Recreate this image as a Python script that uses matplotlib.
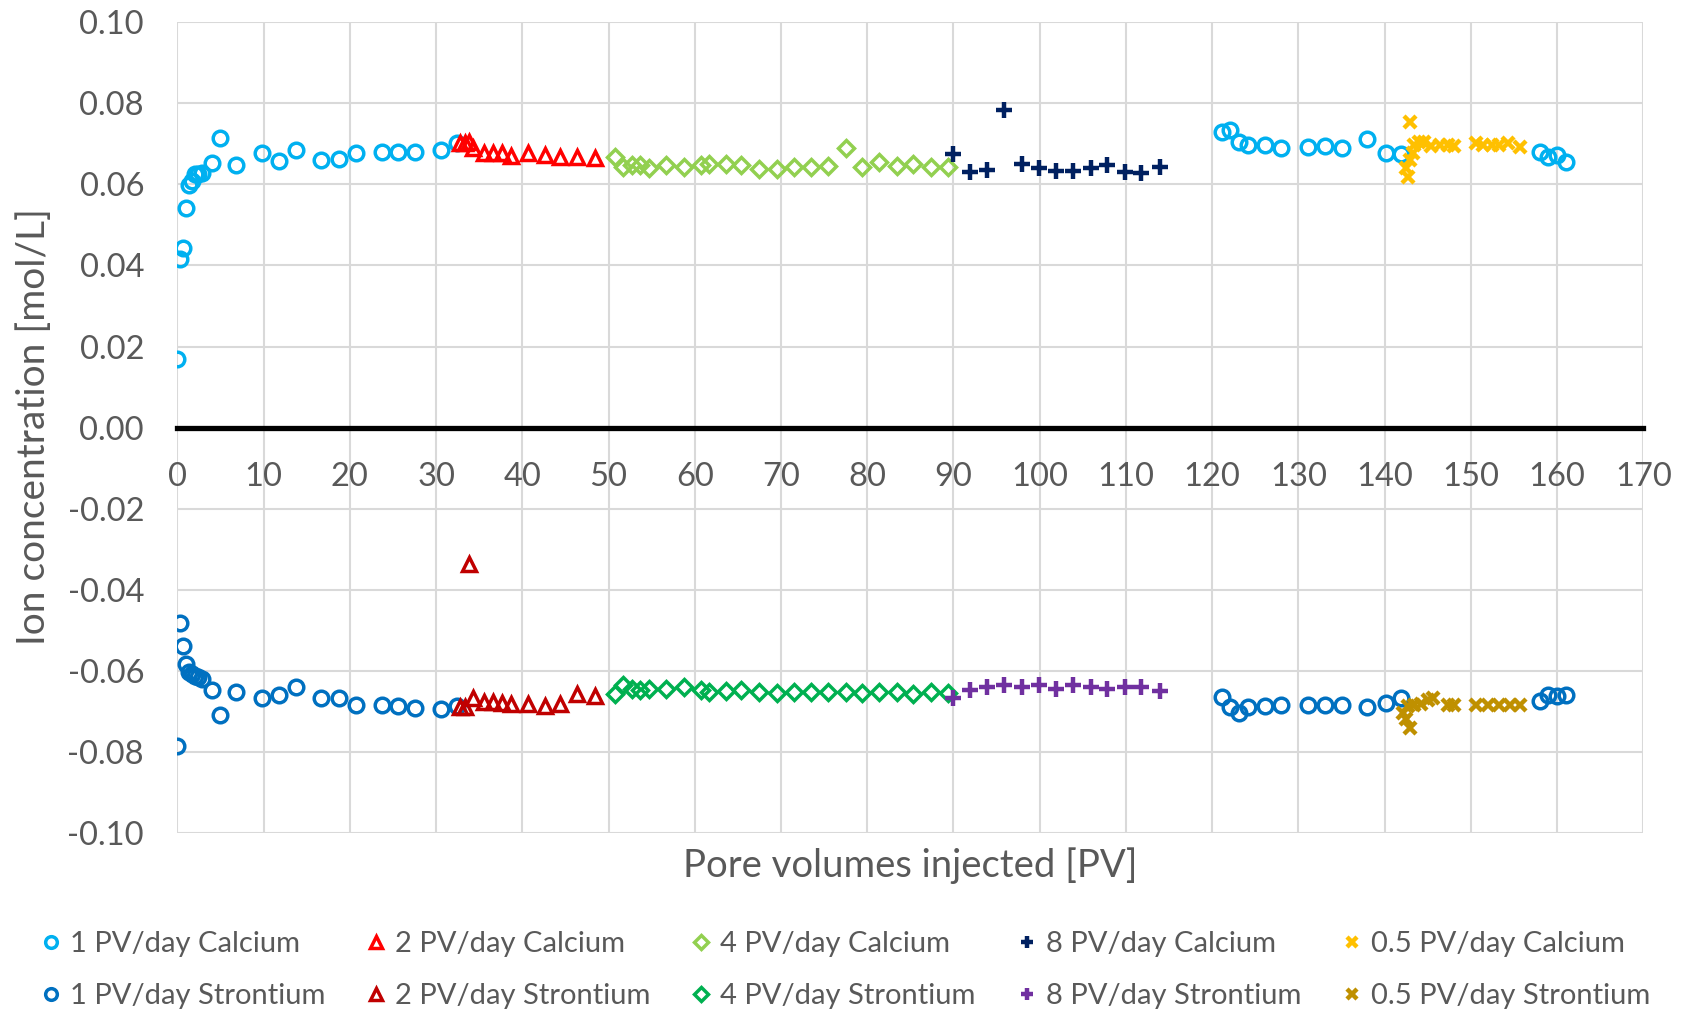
import matplotlib.pyplot as plt
from matplotlib.ticker import FormatStrFormatter

plt.rcParams["font.family"] = ["Lato", "DejaVu Sans"]
plt.rcParams["axes.unicode_minus"] = False

# 1 PV/day
pv1_x = [0.0, 0.3, 0.6, 1.0, 1.4, 1.7, 2.0, 2.4, 2.9, 4.0, 4.9, 6.8, 9.8, 11.8,
         13.7, 16.7, 18.7, 20.7, 23.7, 25.6, 27.6, 30.6, 32.4,
         121.1, 122.1, 123.1, 124.2, 126.1, 128.0, 131.1, 133.1, 135.0, 138.0,
         140.1, 141.9, 158.0, 159.0, 160.0, 161.0]
pv1_ca = [0.0170, 0.0415, 0.0444, 0.0542, 0.0598, 0.0609, 0.0626, 0.0625, 0.0629,
          0.0652, 0.0714, 0.0648, 0.0678, 0.0658, 0.0685, 0.0660, 0.0663, 0.0678,
          0.0679, 0.0679, 0.0679, 0.0685, 0.0701,
          0.0730, 0.0734, 0.0705, 0.0697, 0.0697, 0.0689, 0.0693, 0.0695, 0.0689,
          0.0712, 0.0678, 0.0675, 0.0681, 0.0668, 0.0672, 0.0656]
pv1_sr = [-0.0785, -0.0482, -0.0538, -0.0584, -0.0604, -0.0608, -0.0612, -0.0616,
          -0.0621, -0.0648, -0.0709, -0.0653, -0.0666, -0.0660, -0.0639, -0.0668,
          -0.0668, -0.0684, -0.0684, -0.0686, -0.0691, -0.0695, -0.0686,
          -0.0664, -0.0688, -0.0703, -0.0688, -0.0686, -0.0685, -0.0684, -0.0684,
          -0.0684, -0.0690, -0.0680, -0.0668, -0.0674, -0.0660, -0.0663, -0.0660]

# 2 PV/day
pv2_x = [32.8, 33.3, 33.8, 34.3, 35.6, 36.6, 37.7, 38.7, 40.7, 42.6, 44.4, 46.3, 48.4]
pv2_ca = [0.0703, 0.0701, 0.0705, 0.0689, 0.0678, 0.0677, 0.0677, 0.0670, 0.0677,
          0.0673, 0.0668, 0.0668, 0.0664]
pv2_sr = [-0.0690, -0.0690, -0.0337, -0.0666, -0.0678, -0.0678, -0.0680, -0.0682,
          -0.0682, -0.0686, -0.0682, -0.0658, -0.0662]

# 4 PV/day
pv4_x = [50.7, 51.7, 52.7, 53.7, 54.7, 56.7, 58.7, 60.7, 61.7, 63.6, 65.4, 67.4,
         69.5, 71.5, 73.5, 75.4, 77.5, 79.4, 81.4, 83.4, 85.3, 87.4, 89.4]
pv4_ca = [0.0668, 0.0642, 0.0648, 0.0648, 0.0640, 0.0648, 0.0644, 0.0648, 0.0650,
          0.0650, 0.0648, 0.0638, 0.0638, 0.0644, 0.0644, 0.0645, 0.0689, 0.0644,
          0.0656, 0.0645, 0.0650, 0.0642, 0.0644]
pv4_sr = [-0.0658, -0.0635, -0.0645, -0.0647, -0.0645, -0.0644, -0.0641, -0.0647,
          -0.0652, -0.0649, -0.0647, -0.0652, -0.0655, -0.0653, -0.0652, -0.0651,
          -0.0653, -0.0655, -0.0651, -0.0653, -0.0658, -0.0653, -0.0655]

# 8 PV/day
pv8_x = [89.9, 91.9, 93.9, 95.9, 97.9, 99.9, 101.9, 103.9, 105.9, 107.8, 109.9,
         111.8, 113.9]
pv8_ca = [0.0675, 0.0631, 0.0635, 0.0784, 0.0650, 0.0640, 0.0634, 0.0634, 0.0640,
          0.0648, 0.0631, 0.0629, 0.0644]
pv8_sr = [-0.0666, -0.0647, -0.0639, -0.0635, -0.0639, -0.0635, -0.0644, -0.0635,
          -0.0639, -0.0644, -0.0639, -0.0639, -0.0649]

# 0.5 PV/day
pv05_ca_x = [142.9, 142.7, 142.5, 142.9, 143.3, 143.4, 144.0, 144.6, 145.4, 146.4,
             147.3, 148.1, 150.6, 151.4, 152.4, 153.3, 154.3, 155.7]
pv05_ca = [0.0755, 0.0619, 0.0640, 0.0660, 0.0677, 0.0697, 0.0705, 0.0705, 0.0695,
           0.0697, 0.0697, 0.0695, 0.0701, 0.0697, 0.0697, 0.0697, 0.0701, 0.0691]
pv05_sr_x = [142.9, 142.5, 142.1, 142.7, 143.4, 144.2, 145.0, 145.6, 147.3, 148.1,
             150.6, 152.0, 153.3, 154.5, 155.7]
pv05_sr = [-0.0740, -0.0719, -0.0703, -0.0686, -0.0685, -0.0682, -0.0672, -0.0668,
           -0.0685, -0.0685, -0.0685, -0.0685, -0.0685, -0.0685, -0.0685]

text_color = "#595959"

fig = plt.figure(figsize=(16.86, 10.13), dpi=100)
ax = fig.add_axes([0.1052, 0.1777, 0.8695, 0.8004])

open_style = dict(linestyle="none", markerfacecolor="none", markeredgewidth=2.5)
cross_style = dict(linestyle="none", markeredgewidth=3.2)

ax.plot(pv1_x, pv1_ca, "o", color="#00B0F0", markersize=10.5, label="1 PV/day Calcium", **open_style)
ax.plot(pv1_x, pv1_sr, "o", color="#0070C0", markersize=10.5, label="1 PV/day Strontium", **open_style)
ax.plot(pv2_x, pv2_ca, "^", color="#FF0000", markersize=10.5, label="2 PV/day Calcium", **open_style)
ax.plot(pv2_x, pv2_sr, "^", color="#C00000", markersize=10.5, label="2 PV/day Strontium", **open_style)
ax.plot(pv4_x, pv4_ca, "D", color="#92D050", markersize=8.5, label="4 PV/day Calcium", **open_style)
ax.plot(pv4_x, pv4_sr, "D", color="#00B050", markersize=8.5, label="4 PV/day Strontium", **open_style)
ax.plot(pv8_x, pv8_ca, "+", color="#002060", markersize=11, label="8 PV/day Calcium", **cross_style)
ax.plot(pv8_x, pv8_sr, "+", color="#7030A0", markersize=11, label="8 PV/day Strontium", **cross_style)
ax.plot(pv05_ca_x, pv05_ca, "x", color="#FFC000", markersize=9, label="0.5 PV/day Calcium", **cross_style)
ax.plot(pv05_sr_x, pv05_sr, "x", color="#BF9000", markersize=9, label="0.5 PV/day Strontium", **cross_style)

ax.set_xlim(0, 170)
ax.set_ylim(-0.10, 0.10)
ax.set_xticks(range(0, 171, 10))
ax.set_yticks([-0.10, -0.08, -0.06, -0.04, -0.02, 0.0, 0.02, 0.04, 0.06, 0.08, 0.10])
ax.yaxis.set_major_formatter(FormatStrFormatter("%.2f"))

ax.grid(True, color="#D9D9D9", linewidth=1.5)
ax.set_axisbelow(True)
for side in ["top", "right", "left"]:
    ax.spines[side].set_visible(False)
ax.spines["bottom"].set_position(("data", 0))
ax.spines["bottom"].set_color("black")
ax.spines["bottom"].set_linewidth(3.8)
ax.spines["bottom"].set_zorder(2.5)

ax.tick_params(axis="both", length=0, labelsize=23.5, colors=text_color)
ax.tick_params(axis="x", pad=25)
ax.tick_params(axis="y", pad=24)

fig.text(0.54, 1 - 866 / 1013, "Pore volumes injected [PV]", ha="center", va="center",
         fontsize=27.5, color=text_color)
fig.text(34 / 1686, 1 - 427 / 1013, "Ion concentration [mol/L]", ha="center", va="center",
         rotation=90, fontsize=28, color=text_color)

fig.legend(loc="lower left", bbox_to_anchor=(0.011, -0.022), ncol=5, frameon=False,
           fontsize=21, labelcolor=text_color, markerscale=0.8, handlelength=0.4,
           handletextpad=0.45, columnspacing=1.55, labelspacing=0.9)

fig.savefig("out.png", dpi=100)
